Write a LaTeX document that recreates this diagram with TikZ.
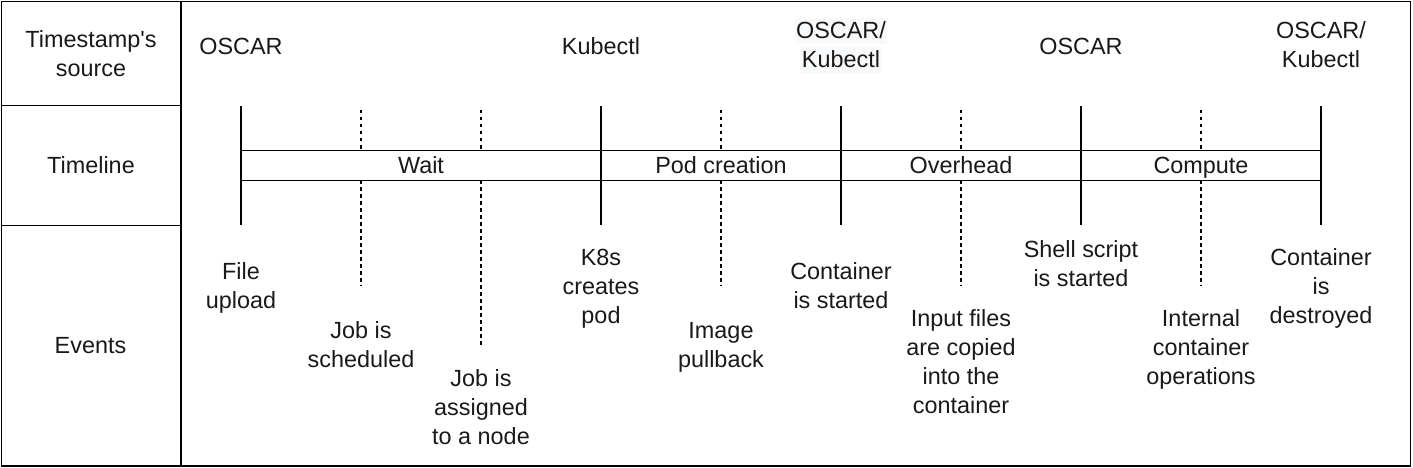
\documentclass[tikz,border=0pt]{standalone}
\usepackage{fontspec}
\setmainfont{Liberation Sans}[Ligatures=TeXOff]
\definecolor{hlbg}{HTML}{F8F9FA}
\newcommand{\hlline}[1]{{\setlength{\fboxsep}{0pt}\colorbox{hlbg}{\rule[-5pt]{0pt}{26pt}\hspace{1.5pt}#1\hspace{1.5pt}}}}
\begin{document}
\begin{tikzpicture}[x=1pt,y=-1pt,line width=1.3pt,
  txt/.style={font=\fontsize{23.4}{29}\selectfont, align=center, anchor=north, inner sep=0pt, text=black!90},
  dashtick/.style={dash pattern=on 3.5pt off 3.5pt, line width=1.2pt},
  solidtick/.style={line width=1.3pt},
  seg/.style={draw, fill=white, inner sep=0pt, minimum height=30pt, line width=1.3pt}]
\useasboundingbox (0,0) rectangle (1413,468);
% frame
\draw (1.2,1.2) rectangle (1410.8,466);
\draw (181,1.2) -- (181,466);
\draw (1.2,105.5) -- (181,105.5);
\draw (1.2,225.7) -- (181,225.7);
% coordinates of ticks
\foreach \n/\x in {a/241,c/601,e/841,g/1081,i/1321}{
  \coordinate (\n top) at (\x,106);
  \coordinate (\n bot) at (\x,225);
}
\foreach \n/\x/\b in {b/361/286,d/481/345,f/721/286,h/961/286,j/1201/286}{
  \coordinate (\n top) at (\x,110);
  \coordinate (\n bot) at (\x,\b);
}
% dashed ticks
\foreach \n in {b,d,f,h,j}{\draw[dashtick] (\n top) -- (\n bot);}
% timeline bar
\node[seg, minimum width=360pt] (wait) at (421,165.3) {};
\node[seg, minimum width=240pt] (pod) at (721,165.3) {};
\node[seg, minimum width=240pt] (over) at (961,165.3) {};
\node[seg, minimum width=240pt] (comp) at (1201,165.3) {};
% solid ticks
\foreach \n in {a,c,e,g,i}{\draw[solidtick] (\n top) -- (\n bot);}
% left column labels
\node[txt] (l1) at (91,26.4) {\strut Timestamp's\\source};
\node[txt] (l2) at (91,153) {\strut Timeline};
\node[txt] (l3) at (90.5,333) {\strut Events};
% sources
\node[txt] (s1) at (241,33.7) {\strut OSCAR};
\node[txt] (s2) at (601,33.7) {\strut Kubectl};
\node[txt] (s3) at (841,17.3) {\hlline{OSCAR/}\\\hlline{Kubectl}};
\node[txt] (s4) at (1081,33.7) {\strut OSCAR};
\node[txt] (s5) at (1321,18) {\strut OSCAR/\\Kubectl};
% bar labels
\node[txt] (w) at (421,153) {\strut Wait};
\node[txt] (p) at (721,153) {\strut Pod creation};
\node[txt] (o) at (961,153) {\strut Overhead};
\node[txt] (c) at (1201,153) {\strut Compute};
% events
\node[txt] (e1) at (241,258.7) {\strut File\\upload};
\node[txt] (e2) at (361,317.7) {\strut Job is\\scheduled};
\node[txt] (e3) at (481,365.4) {\strut Job is\\assigned\\to a node};
\node[txt] (e4) at (601,244.7) {\strut K8s\\creates\\pod};
\node[txt] (e5) at (721,317.7) {\strut Image\\pullback};
\node[txt] (e6) at (841,258.7) {\strut Container\\is started};
\node[txt] (e7) at (961,305.7) {\strut Input files\\are copied\\into the\\container};
\node[txt] (e8) at (1081,236.4) {\strut Shell script\\is started};
\node[txt] (e9) at (1201,305.7) {\strut Internal\\container\\operations};
\node[txt] (e10) at (1321,244.7) {\strut Container\\is\\destroyed};
\end{tikzpicture}
\end{document}
